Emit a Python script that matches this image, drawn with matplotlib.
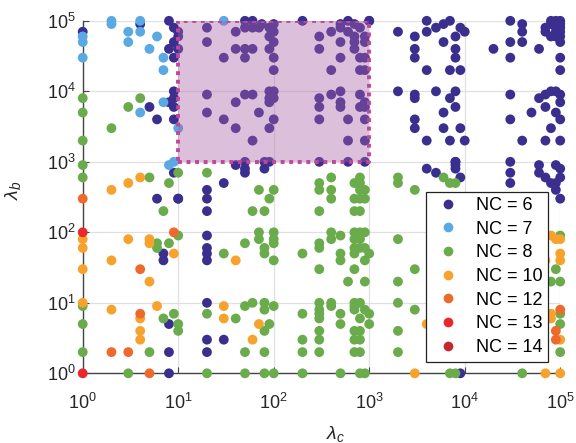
import matplotlib
matplotlib.use("Agg")
import matplotlib.pyplot as plt
from matplotlib.patches import Rectangle
from matplotlib.lines import Line2D

plt.rcParams['font.family'] = ['Liberation Sans', 'DejaVu Sans']
plt.rcParams['mathtext.fontset'] = 'custom'
plt.rcParams['mathtext.rm'] = 'Liberation Sans'
plt.rcParams['mathtext.it'] = 'Liberation Sans:italic'

# ---------------- data (lambda_c, lambda_b) per NC ----------------
x6 = [1, 4, 8, 9, 10, 9, 8, 9, 10, 10,
      5, 6, 8, 9, 9, 9, 9, 9, 6, 10, 7, 7, 8, 8, 8,
      40, 50, 50, 50, 80, 90, 80, 300, 600, 900, 30, 20, 20, 20, 10,
      20, 20, 20, 20, 20, 20, 20, 30,
      50, 60, 75, 100, 20, 40, 50, 60, 70, 90, 100, 20, 40, 50, 60, 90, 90, 100, 30, 50, 100, 100,
      20, 50, 60, 40, 90, 90, 90, 100, 100, 20, 70, 30, 100, 40, 90, 60,
      300, 300, 400, 500, 500, 600, 700, 700, 700, 800, 900, 900, 500, 800, 900, 400, 800, 900,
      300, 300, 400, 500, 500, 500, 300, 600, 800, 800, 900, 900, 900, 600, 900,
      200, 600, 1000, 500, 700,
      1000, 2000, 3000, 4000, 4000, 5000, 6000, 7000, 9000, 10000, 8000, 6000, 3000, 3000,
      8000, 8000, 4000, 7000, 9000,
      30000, 40000, 40000, 30000, 40000, 20000, 30000, 60000,
      70000, 80000, 90000, 100000, 70000, 80000, 90000, 100000, 100000, 100000, 100000,
      100000, 90000, 80000, 90000, 100000, 100000,
      2000, 3000, 3000, 5000, 8000, 7000, 8000, 6000, 3000, 3000, 6000, 9000, 4000, 7000,
      10000, 8000,
      30000, 30000, 40000, 50000, 60000, 70000, 70000, 80000, 90000, 100000, 100000, 90000,
      100000, 80000, 70000, 100000,
      4000, 5000, 8000, 8000, 8000, 9000, 30000, 30000, 30000,
      60000, 60000, 70000, 80000, 90000, 90000, 100000, 90000, 100000, 100000, 9000]
y6 = [70000, 90000, 100000, 80000, 70000, 50000, 40000, 30000, 40000, 60000,
      6000, 4000, 7000, 10000, 8000, 6000, 4000, 700, 300, 300, 50, 40, 5, 2, 1,
      900, 1000, 800, 700, 1000, 1000, 800, 1000, 1000, 1000, 500, 400, 300, 200, 300,
      90, 60, 50, 40, 10, 3, 2, 3,
      100000, 100000, 90000, 90000, 80000, 70000, 80000, 80000, 80000, 80000, 70000, 50000, 40000, 40000, 40000, 60000, 40000, 50000, 30000, 30000, 30000, 20000,
      9000, 9000, 9000, 7000, 10000, 8000, 7000, 10000, 8000, 5000, 5000, 4000, 4000, 3000, 3000, 2000,
      60000, 40000, 70000, 80000, 50000, 70000, 60000, 50000, 40000, 80000, 60000, 50000, 30000, 30000, 30000, 20000, 20000, 20000,
      8000, 6000, 9000, 10000, 7000, 6000, 4000, 4000, 9000, 6000, 7000, 6000, 4000, 2000, 2000,
      100000, 100000, 100000, 90000, 90000,
      100000, 70000, 60000, 100000, 70000, 80000, 90000, 100000, 80000, 70000, 60000, 50000, 40000, 30000,
      40000, 30000, 20000, 20000, 20000,
      100000, 90000, 70000, 50000, 50000, 40000, 30000, 40000,
      80000, 100000, 100000, 100000, 70000, 60000, 80000, 70000, 50000, 30000, 20000,
      90000, 70000, 90000, 60000, 60000, 80000,
      10000, 9000, 8000, 10000, 10000, 8000, 6000, 5000, 4000, 3000, 3000, 3000, 2000, 2000,
      2000, 1000,
      9000, 4000, 2000, 5000, 8000, 9000, 6000, 10000, 10000, 9000, 7000, 5000,
      4000, 3000, 2000, 2000,
      800, 700, 1000, 900, 800, 600, 1000, 700, 500,
      900, 700, 600, 500, 500, 400, 300, 900, 800, 600, 1]

x7 = [1, 1, 1, 2, 2, 4, 3, 3, 4, 5, 6, 7, 7, 4, 7, 10, 9, 8, 30]
y7 = [60000, 50000, 30000, 100000, 90000, 100000, 70000, 50000, 70000, 40000, 60000,
      30000, 20000, 5000, 7000, 3000, 1000, 900, 100000]

x8 = [1, 1, 1, 2, 3, 4, 1, 1, 5, 8, 10, 7, 10, 6, 6, 8, 1, 1, 1, 7, 9, 10, 10, 5, 3,
      20, 70, 100, 90, 60, 80, 300, 300, 400, 400, 400, 300, 700, 800, 800, 800, 800, 700,
      900, 900, 700, 800,
      30, 50, 70, 70, 100, 100, 80, 80, 100, 100, 200, 300, 300, 300, 400, 400, 500, 500,
      500, 600, 700, 800, 900, 700, 800, 700, 800, 900, 700, 900, 1000, 700, 900,
      20, 40, 50, 60, 80, 80, 100, 90, 80, 50, 80, 20, 50, 80, 100, 200, 500, 800, 900,
      200, 200, 200, 300, 300, 300, 300, 300, 300, 300, 400, 400, 500, 500, 700, 800, 700,
      700, 900, 1000, 1000, 800, 700, 800, 700, 800, 700, 800,
      2000, 2000, 3000, 6000, 7000, 8000, 2000, 3000, 2000, 2000, 3000, 2000, 2000,
      7000, 8000, 40000, 100000, 90000, 80000, 100000, 100000, 100000, 100000]
y8 = [8000, 5000, 2000, 3000, 6000, 8000, 900, 600, 600, 500, 700, 200, 90, 70, 60, 70,
      9, 5, 2, 6, 7, 5, 4, 2, 1,
      700, 400, 400, 300, 200, 200, 500, 400, 600, 400, 300, 200, 500, 600, 500, 400, 300, 300,
      400, 300, 200, 200,
      50, 70, 100, 80, 100, 80, 60, 50, 40, 70, 50, 70, 60, 30, 100, 80, 90, 50,
      40, 20, 100, 100, 100, 80, 80, 60, 60, 60, 50, 40, 50, 30, 20,
      7, 6, 9, 10, 10, 8, 9, 5, 4, 2, 2, 1, 1, 1, 1, 1, 1, 1, 1,
      7, 3, 2, 10, 8, 7, 6, 4, 3, 2, 10, 9, 7, 5, 10, 10, 9,
      8, 8, 7, 5, 6, 4, 4, 3, 3, 2, 2,
      600, 500, 400, 600, 500, 500, 80, 30, 20, 10, 8, 4, 2,
      1, 1, 1, 90, 30, 20, 20, 7, 5, 2]

x10 = [2, 3, 4, 1, 1, 1, 3, 5, 5, 9, 2, 5, 1, 2, 6, 4, 4, 4, 30, 30, 70, 60, 40,
       3000, 70000, 100000, 80000, 90000, 100000, 100000, 100000, 70000, 80000, 80000,
       100000, 4000]
y10 = [400, 500, 600, 80, 60, 30, 80, 80, 70, 50, 40, 20, 10, 8, 9, 6, 4, 3, 9, 6, 5, 3, 40,
       1, 1, 1, 90, 80, 80, 50, 40, 40, 7, 6, 3, 5]

x12 = [1, 9, 4, 4, 2, 3, 5, 100000, 90000, 90000]
y12 = [300, 100, 30, 7, 2, 2, 1, 8, 4, 3]

x13 = [1, 1]
y13 = [100, 1]

x14 = []
y14 = []

nc_labels = ['NC = 6', 'NC = 7', 'NC = 8', 'NC = 10', 'NC = 12', 'NC = 13', 'NC = 14']
colors = ['#3a2f8e', '#5aa9e2', '#6aab4b', '#f7a22d', '#ee6a2c', '#e8282b', '#c4272d']

# highlighted region
rect_x = [10, 1000]
rect_y = [1000, 100000]

# ---------------- figure ----------------
fig = plt.figure(figsize=(5.76, 4.43), dpi=100)
ax = fig.add_axes([0.1436, 0.1573, 0.8290, 0.7957])

groups = [(x6, y6), (x7, y7), (x8, y8), (x10, y10), (x12, y12), (x13, y13), (x14, y14)]
handles = []
for (gx, gy), lab, col in zip(groups, nc_labels, colors):
    if len(gx) > 0:
        ax.scatter(gx, gy, s=50, color=col, edgecolors='none',
                   zorder=3, clip_on=False)
    handles.append(Line2D([], [], linestyle='none', marker='o', markersize=7,
                          markerfacecolor=col, markeredgecolor='none', label=lab))

ax.set_xscale('log')
ax.set_yscale('log')
ax.set_xlim(1, 1e5)
ax.set_ylim(1, 1e5)
ax.minorticks_off()

rect = Rectangle((rect_x[0], rect_y[0]), rect_x[1] - rect_x[0], rect_y[1] - rect_y[0],
                 facecolor=(167/255, 97/255, 167/255, 0.4), edgecolor='none', zorder=4)
ax.add_patch(rect)
ax.plot([rect_x[0], rect_x[1], rect_x[1], rect_x[0], rect_x[0]],
        [rect_y[0], rect_y[0], rect_y[1], rect_y[1], rect_y[0]],
        color='#c0479c', lw=2.8, linestyle=(0, (1, 1.2)), zorder=5,
        dash_capstyle='butt')

ax.grid(True, which='major', color='#e0e0e0', lw=0.9, zorder=0)
ax.set_axisbelow(True)
for s in ['top', 'right']:
    ax.spines[s].set_visible(False)
for s in ['left', 'bottom']:
    ax.spines[s].set_color('#444444')
    ax.spines[s].set_linewidth(1.0)

ax.tick_params(direction='in', length=4, width=0.8, colors='#444444',
               labelcolor='#262626', labelsize=13, pad=5)
ax.tick_params(axis='x', pad=14)

ax.set_xlabel(r'$\lambda_c$', fontsize=14, color='#262626')
ax.set_ylabel(r'$\lambda_b$', fontsize=14, color='#262626')
ax.xaxis.set_label_coords(0.53, -0.143)
ax.yaxis.set_label_coords(-0.125, 0.52)

leg = ax.legend(handles=handles, loc='lower right', fontsize=13, frameon=True,
                fancybox=False, edgecolor='#222222', framealpha=1, borderaxespad=0.65,
                labelspacing=0.37, handletextpad=0.6, borderpad=0.3,
                handlelength=1.9)
leg.get_frame().set_linewidth(0.9)
leg.set_zorder(10)

fig.savefig('out.png', dpi=100)
